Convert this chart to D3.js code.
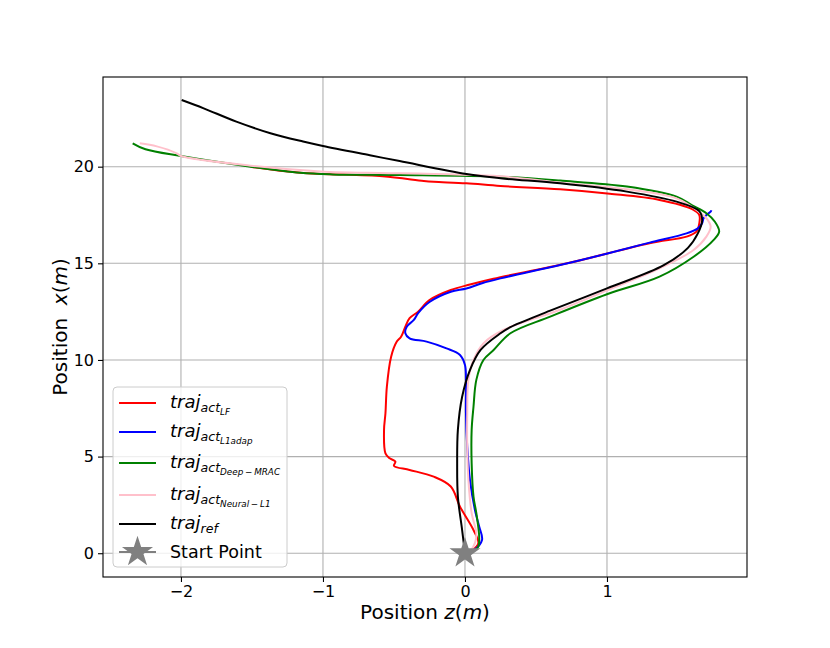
<!DOCTYPE html>
<html>
<head>
<meta charset="utf-8">
<script src="https://cdn.jsdelivr.net/npm/d3@7"></script>
<style>
  body { margin: 0; background: #fff; }
  svg { font-family: "DejaVu Sans", sans-serif; }
</style>
</head>
<body>
<svg id="chart" width="830" height="648"></svg>
<script>
// Data ======================================================================
// each point is [z, x] in metres

const trajLF = [
  [0, 0], [0.05, 0.15], [0.094, 0.52], [0.06, 1.2], [-0.035, 2.41], [-0.1, 3.45],
  [-0.22, 3.96], [-0.39, 4.31], [-0.5, 4.52], [-0.49, 4.74], [-0.53, 4.91],
  [-0.56, 5.17], [-0.57, 6.38], [-0.56, 7.24], [-0.55, 8.62], [-0.52, 10.17],
  [-0.48, 10.95], [-0.45, 11.2], [-0.42, 11.72], [-0.39, 12.16], [-0.33, 12.5],
  [-0.25, 13.1], [-0.1, 13.62], [0.035, 13.9], [0.2, 14.2], [0.72, 15.0],
  [1.3, 16.04], [1.56, 16.38], [1.63, 16.64], [1.65, 17.07], [1.65, 17.5],
  [1.6, 17.8], [1.37, 18.28], [1.02, 18.6], [0.67, 18.83], [0.25, 19.0],
  [0.01, 19.14], [-0.22, 19.22], [-0.29, 19.26], [-0.58, 19.5], [-1.16, 19.69],
  [-1.51, 20.0]
];

const trajL1adap = [
  [0, 0], [0.06, 0.15], [0.12, 0.69], [0.1, 1.38], [0.07, 2.24], [0.035, 3.8],
  [0.016, 5.5], [0.007, 7.24], [0.007, 8.97], [0, 9.74], [-0.035, 10.26],
  [-0.13, 10.6], [-0.27, 10.95], [-0.39, 11.12], [-0.42, 11.38], [-0.41, 11.72],
  [-0.36, 12.07], [-0.33, 12.42], [-0.25, 13.0], [-0.1, 13.53], [0.01, 13.7],
  [0.12, 13.97], [0.25, 14.22], [0.67, 14.91], [1.01, 15.52], [1.3, 16.07],
  [1.56, 16.55], [1.64, 16.81], [1.67, 17.07], [1.68, 17.33], [1.7, 17.5],
  [1.73, 17.67], [1.735, 17.75]
];

const trajDeepMRAC = [
  [0, 0], [0.06, 0.12], [0.094, 0.34], [0.1, 0.86], [0.08, 2.07], [0.06, 2.93],
  [0.047, 4.65], [0.047, 6.38], [0.06, 7.58], [0.08, 8.97], [0.13, 10.0],
  [0.2, 10.5], [0.32, 11.38], [0.6, 12.24], [1.0, 13.4], [1.37, 14.31],
  [1.61, 15.34], [1.75, 16.2], [1.79, 16.64], [1.76, 17.15], [1.7, 17.59],
  [1.6, 18.0], [1.49, 18.45], [1.14, 18.97], [0.67, 19.28], [0.25, 19.48],
  [-0.46, 19.57], [-0.93, 19.6], [-1.16, 19.68], [-1.51, 20.0], [-2.0, 20.55],
  [-2.25, 20.9], [-2.34, 21.21]
];

const trajNeuralL1 = [
  [0, 0], [0.04, 0.15], [0.07, 0.52], [0.08, 1.03], [0.047, 2.07], [0.024, 3.8],
  [0.016, 5.5], [0.016, 7.2], [0.024, 8.97], [0.06, 10.0], [0.13, 10.86],
  [0.27, 11.55], [0.67, 12.6], [1.0, 13.6], [1.37, 14.74], [1.61, 15.69],
  [1.7, 16.38], [1.73, 16.9], [1.7, 17.33], [1.66, 17.6], [1.49, 18.36],
  [1.14, 18.83], [0.67, 19.17], [0.25, 19.5], [-0.69, 19.69], [-0.99, 19.74],
  [-1.51, 20.05], [-2.0, 20.55], [-2.03, 20.69], [-2.17, 21.05], [-2.29, 21.21]
];

const trajRef = [
  [0, 0], [-0.02, 1.2], [-0.05, 2.93], [-0.055, 4.65], [-0.05, 6.38],
  [-0.02, 8.1], [0.035, 9.48], [0.11, 10.52], [0.25, 11.38], [0.32, 11.7],
  [0.6, 12.55], [1.0, 13.7], [1.4, 14.9], [1.57, 15.8], [1.64, 16.55],
  [1.67, 17.2], [1.65, 17.7], [1.49, 18.19], [1.14, 18.71], [0.67, 19.14],
  [0.25, 19.4], [0.01, 19.62], [-0.46, 20.29], [-0.67, 20.59], [-1.0, 21.07],
  [-1.14, 21.3], [-1.37, 21.73], [-1.61, 22.33], [-1.84, 23.02], [-1.995, 23.45]
];

const startPoint = [0, 0];

const zTicks = [-2, -1, 0, 1];
const xTicks = [0, 5, 10, 15, 20];

// Series styling ============================================================

const series = [
  { data: trajLF, color: "red", sub: "LF" },
  { data: trajL1adap, color: "blue", sub: "L1adap" },
  { data: trajDeepMRAC, color: "green", sub: "Deep\u2009\u2212\u2009MRAC" },
  { data: trajNeuralL1, color: "pink", sub: "Neural\u2009\u2212\u2009L1" },
  { data: trajRef, color: "black", sub: null }
];

// Scales ====================================================================

const plotLeft = 103, plotRight = 747, plotTop = 77, plotBottom = 577;

const xScale = d3.scaleLinear().domain([-2.549, 1.986]).range([plotLeft, plotRight]);
const yScale = d3.scaleLinear().domain([-1.23, 24.64]).range([plotBottom, plotTop]);

const svg = d3.select("#chart");

// Grid ======================================================================

svg.append("g")
  .selectAll("line")
  .data(zTicks)
  .join("line")
  .attr("x1", d => xScale(d)).attr("x2", d => xScale(d))
  .attr("y1", plotTop).attr("y2", plotBottom)
  .attr("stroke", "#b0b0b0").attr("stroke-width", 1.1);

svg.append("g")
  .selectAll("line")
  .data(xTicks)
  .join("line")
  .attr("x1", plotLeft).attr("x2", plotRight)
  .attr("y1", d => yScale(d)).attr("y2", d => yScale(d))
  .attr("stroke", "#b0b0b0").attr("stroke-width", 1.1);

// Lines =====================================================================

const line = d3.line()
  .x(d => xScale(d[0]))
  .y(d => yScale(d[1]))
  .curve(d3.curveCatmullRom.alpha(0.5));

svg.append("g")
  .selectAll("path")
  .data(series)
  .join("path")
  .attr("d", d => line(d.data))
  .attr("fill", "none")
  .attr("stroke", d => d.color)
  .attr("stroke-width", 2)
  .attr("stroke-linejoin", "round");

// star marker
const star = d3.symbol().type(d3.symbolStar).size(300);

svg.append("path")
  .attr("d", star())
  .attr("transform", `translate(${xScale(startPoint[0])},${yScale(startPoint[1])})`)
  .attr("fill", "gray");

// Axes ======================================================================

const xAxis = svg.append("g")
  .attr("transform", `translate(0,${plotBottom})`)
  .call(d3.axisBottom(xScale).tickValues(zTicks)
    .tickSize(5).tickPadding(4)
    .tickFormat(d => d < 0 ? "\u2212" + Math.abs(d) : d));

const yAxis = svg.append("g")
  .attr("transform", `translate(${plotLeft},0)`)
  .call(d3.axisLeft(yScale).tickValues(xTicks).tickSize(5).tickPadding(4));

[xAxis, yAxis].forEach(g => {
  g.select(".domain").remove();
  g.selectAll("text")
    .attr("font-size", 16)
    .attr("font-family", "DejaVu Sans")
    .attr("fill", "#000");
  g.selectAll(".tick line").attr("stroke", "#000").attr("stroke-width", 1.1);
});

svg.append("rect")
  .attr("x", plotLeft).attr("y", plotTop)
  .attr("width", plotRight - plotLeft).attr("height", plotBottom - plotTop)
  .attr("fill", "none")
  .attr("stroke", "#000")
  .attr("stroke-width", 1.1);

// axis labels
const xLabel = svg.append("text")
  .attr("x", (plotLeft + plotRight) / 2)
  .attr("y", 619)
  .attr("text-anchor", "middle")
  .attr("font-size", 20);
xLabel.append("tspan").text("Position ");
xLabel.append("tspan").attr("font-style", "italic").text("z");
xLabel.append("tspan").text("(");
xLabel.append("tspan").attr("font-style", "italic").text("m");
xLabel.append("tspan").text(")");

const yLabel = svg.append("text")
  .attr("transform", `translate(67,${(plotTop + plotBottom) / 2}) rotate(-90)`)
  .attr("text-anchor", "middle")
  .attr("font-size", 20);
yLabel.append("tspan").text("Position\u00a0\u00a0");
yLabel.append("tspan").attr("font-style", "italic").text("x");
yLabel.append("tspan").text("(");
yLabel.append("tspan").attr("font-style", "italic").text("m");
yLabel.append("tspan").text(")");

// Legend ====================================================================

const legend = svg.append("g");

legend.append("rect")
  .attr("x", 113).attr("y", 387)
  .attr("width", 174).attr("height", 180)
  .attr("rx", 4)
  .attr("fill", "#fff").attr("fill-opacity", 0.8)
  .attr("stroke", "#cccccc").attr("stroke-width", 1);

const rowY = [403, 432, 463, 495, 524, 552];

series.forEach((s, i) => {
  const y = rowY[i];
  legend.append("line")
    .attr("x1", 119).attr("x2", 156)
    .attr("y1", y).attr("y2", y)
    .attr("stroke", s.color).attr("stroke-width", 2);

  const t = legend.append("text")
    .attr("x", 170).attr("y", y + 5)
    .attr("font-size", 18)
    .attr("font-style", "italic");
  t.append("tspan").text("traj");
  if (s.sub) {
    t.append("tspan").attr("font-size", 12.6).attr("dy", 4).text("act");
    t.append("tspan").attr("font-size", 8.8).attr("dy", 3).text(s.sub);
  } else {
    t.append("tspan").attr("font-size", 12.6).attr("dy", 4).text("ref");
  }
});

legend.append("line")
  .attr("x1", 119).attr("x2", 156)
  .attr("y1", rowY[5]).attr("y2", rowY[5])
  .attr("stroke", "gray").attr("stroke-width", 2);
legend.append("path")
  .attr("d", star())
  .attr("transform", `translate(137.5,${rowY[5]})`)
  .attr("fill", "gray");
legend.append("text")
  .attr("x", 170).attr("y", rowY[5] + 6)
  .attr("font-size", 17.5)
  .text("Start Point");
</script>
</body>
</html>
